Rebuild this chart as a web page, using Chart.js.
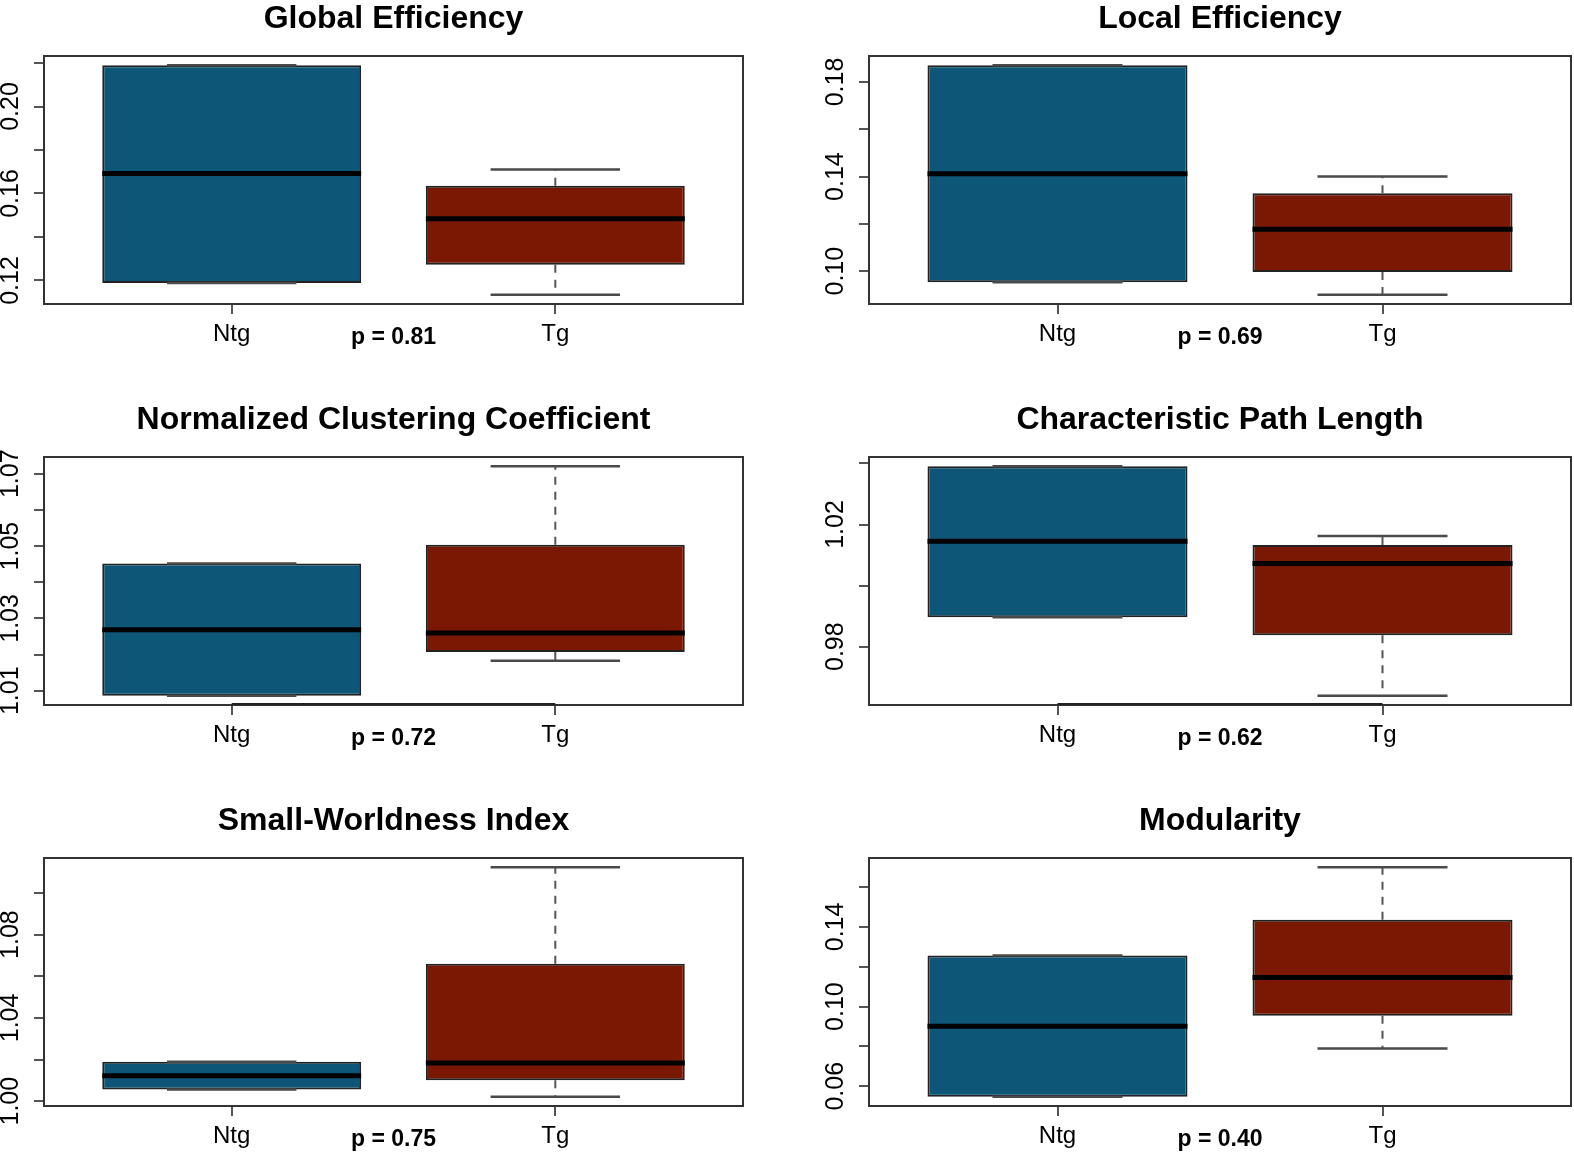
<!DOCTYPE html>
<html>
<head>
<meta charset="utf-8">
<script src="https://cdn.jsdelivr.net/npm/chart.js@4.4.1/dist/chart.umd.min.js"></script>
<style>
html,body{margin:0;padding:0;background:#fff;}
#wrap{position:relative;width:1574px;height:1155px;background:#fff;overflow:hidden;}
#wrap canvas{position:absolute;}
</style>
</head>
<body>
<div id="wrap"></div>
<script>
// ---------- DATA ----------
const metrics = ['Global Efficiency', 'Local Efficiency', 'Normalized Clustering Coefficient',
                 'Characteristic Path Length', 'Small-Worldness Index', 'Modularity'];
const groups = ['Ntg', 'Tg'];
const pLabels = ['p = 0.81', 'p = 0.69', 'p = 0.72', 'p = 0.62', 'p = 0.75', 'p = 0.40'];

// Ntg group five-number summaries, one entry per metric
const ntgMin    = [0.1188, 0.0953, 1.0086, 0.9896, 1.0056, 0.0547];
const ntgQ1     = [0.1188, 0.0953, 1.0086, 0.9896, 1.0056, 0.0547];
const ntgMedian = [0.1692, 0.1412, 1.0269, 1.0145, 1.0122, 0.0901];
const ntgQ3     = [0.2190, 0.1871, 1.0452, 1.0391, 1.0189, 0.1257];
const ntgMax    = [0.2190, 0.1871, 1.0452, 1.0391, 1.0189, 0.1257];

// Tg group five-number summaries
const tgMin     = [0.1134, 0.0900, 1.0183, 0.9639, 1.0021, 0.0790];
const tgQ1      = [0.1272, 0.0996, 1.0207, 0.9837, 1.0100, 0.0954];
const tgMedian  = [0.1484, 0.1177, 1.0260, 1.0072, 1.0183, 0.1146];
const tgQ3      = [0.1635, 0.1329, 1.0504, 1.0133, 1.0660, 0.1436];
const tgMax     = [0.1710, 0.1400, 1.0721, 1.0162, 1.1124, 0.1700];

// y-axis tick marks and which of them carry a label
const tickValues = [
  [0.12, 0.14, 0.16, 0.18, 0.20, 0.22],
  [0.10, 0.12, 0.14, 0.16, 0.18],
  [1.01, 1.02, 1.03, 1.04, 1.05, 1.06, 1.07],
  [0.98, 1.00, 1.02, 1.04],
  [1.00, 1.02, 1.04, 1.06, 1.08, 1.10],
  [0.06, 0.08, 0.10, 0.12, 0.14, 0.16]
];
const labeledTicks = [
  [0.12, 0.16, 0.20],
  [0.10, 0.14, 0.18],
  [1.01, 1.03, 1.05, 1.07],
  [0.98, 1.02],
  [1.00, 1.04, 1.08],
  [0.06, 0.10, 0.14]
];

// ---------- STYLE / LAYOUT ----------
const FILLS = ['#0e5678', '#7a1804'];
const FONT = "'Liberation Sans', Arial, Helvetica, sans-serif";
Chart.defaults.font.family = FONT;
const cols = [
  {left: 0,   width: 787, axisW: 44, padR: 44},
  {left: 790, width: 784, axisW: 79, padR: 3}
];
const rowTops = [0, 401, 802];
const H = 385;
const thickAxisPanels = [2, 3];

const wrap = document.getElementById('wrap');

function boxExtras(stats, k) {
  return {
    id: 'boxExtras' + k,
    beforeDatasetsDraw(chart) {
      const {ctx, scales: {x, y}} = chart;
      ctx.save();
      ctx.strokeStyle = '#555';
      ctx.lineWidth = 2;
      ctx.setLineDash([8, 7]);
      stats.forEach((s, i) => {
        const xc = x.getPixelForValue(i + 1);
        ctx.beginPath();
        ctx.moveTo(xc, y.getPixelForValue(s.q3)); ctx.lineTo(xc, y.getPixelForValue(s.max));
        ctx.moveTo(xc, y.getPixelForValue(s.q1)); ctx.lineTo(xc, y.getPixelForValue(s.min));
        ctx.stroke();
      });
      ctx.restore();
    },
    afterDatasetsDraw(chart) {
      const {ctx, chartArea: a, scales: {x, y}} = chart;
      const meta = chart.getDatasetMeta(0);
      ctx.save();
      stats.forEach((s, i) => {
        const xc = x.getPixelForValue(i + 1);
        const half = meta.data[i].width / 2;
        // staples
        ctx.strokeStyle = '#4a4a4a';
        ctx.lineWidth = 2.5;
        ctx.beginPath();
        [s.max, s.min].forEach(v => {
          const py = y.getPixelForValue(v);
          ctx.moveTo(xc - half / 2, py); ctx.lineTo(xc + half / 2, py);
        });
        ctx.stroke();
        // median
        ctx.strokeStyle = '#000';
        ctx.lineWidth = 5;
        ctx.beginPath();
        const pm = y.getPixelForValue(s.med);
        ctx.moveTo(xc - half, pm); ctx.lineTo(xc + half, pm);
        ctx.stroke();
      });
      // plot frame
      ctx.strokeStyle = '#333';
      ctx.lineWidth = 2;
      ctx.strokeRect(a.left, a.top, a.right - a.left, a.bottom - a.top);
      if (thickAxisPanels.includes(k)) {
        ctx.lineWidth = 2;
        ctx.strokeStyle = '#222';
        ctx.beginPath();
        ctx.moveTo(x.getPixelForValue(1), a.bottom - 1);
        ctx.lineTo(x.getPixelForValue(groups.length), a.bottom - 1);
        ctx.stroke();
      }
      ctx.restore();
    }
  };
}

metrics.forEach((title, k) => {
  const col = cols[k % 2];
  const top = rowTops[Math.floor(k / 2)];
  const cv = document.createElement('canvas');
  cv.width = col.width; cv.height = H;
  cv.style.left = col.left + 'px'; cv.style.top = top + 'px';
  cv.style.width = col.width + 'px'; cv.style.height = H + 'px';
  wrap.appendChild(cv);

  const stats = [
    {min: ntgMin[k], q1: ntgQ1[k], med: ntgMedian[k], q3: ntgQ3[k], max: ntgMax[k]},
    {min: tgMin[k],  q1: tgQ1[k],  med: tgMedian[k],  q3: tgQ3[k],  max: tgMax[k]}
  ];
  const lo = Math.min(...stats.map(s => s.min));
  const hi = Math.max(...stats.map(s => s.max));
  const ext = (hi - lo) * 0.04;
  const ticksK = tickValues[k];
  const labK = labeledTicks[k];

  new Chart(cv, {
    type: 'bar',
    data: {
      datasets: [{
        data: stats.map((s, i) => ({x: i + 1, y: [s.q1, s.q3]})),
        backgroundColor: FILLS,
        borderColor: '#222',
        borderWidth: 2,
        borderSkipped: false,
        barPercentage: 0.8,
        categoryPercentage: 1.0
      }]
    },
    options: {
      responsive: false,
      devicePixelRatio: 1,
      animation: false,
      layout: {padding: {left: 0, right: col.padR, top: 0, bottom: 31}},
      plugins: {
        legend: {display: false},
        tooltip: {enabled: false},
        title: {
          display: true, text: title, fullSize: false, color: '#000',
          font: {family: FONT, size: 32, weight: 'bold', lineHeight: 1.2},
          padding: {top: 0, bottom: 17.6}
        }
      },
      scales: {
        x: {
          type: 'linear', min: 0.42, max: 2.58, offset: false,
          afterBuildTicks: s => { s.ticks = groups.map((g, i) => ({value: i + 1})); },
          afterFit: s => { s.height = 50; },
          ticks: {
            callback: (v, i) => groups[i],
            color: '#000', font: {size: 24}, padding: 6,
            maxRotation: 0, minRotation: 0, autoSkip: false
          },
          grid: {offset: false, drawOnChartArea: false, drawTicks: true, tickLength: 10, color: '#555', lineWidth: 2},
          border: {display: false},
          title: {
            display: true, text: pLabels[k], color: '#000',
            font: {size: 23, weight: 'bold', lineHeight: 1.2},
            padding: {top: 0, bottom: 2.6}
          }
        },
        y: {
          type: 'linear', min: lo - ext, max: hi + ext,
          afterBuildTicks: s => { s.ticks = ticksK.map(v => ({value: v})); },
          afterFit: s => { s.width = col.axisW; },
          ticks: {
            callback: v => labK.some(l => Math.abs(l - v) < 1e-9) ? v.toFixed(2) : '',
            color: '#000', font: {size: 25}, padding: -1,
            minRotation: 90, maxRotation: 90, crossAlign: 'center', autoSkip: false
          },
          grid: {drawOnChartArea: false, drawTicks: true, tickLength: 10, color: '#555', lineWidth: 2},
          border: {display: false}
        }
      }
    },
    plugins: [boxExtras(stats, k)]
  });
});
</script>
</body>
</html>
